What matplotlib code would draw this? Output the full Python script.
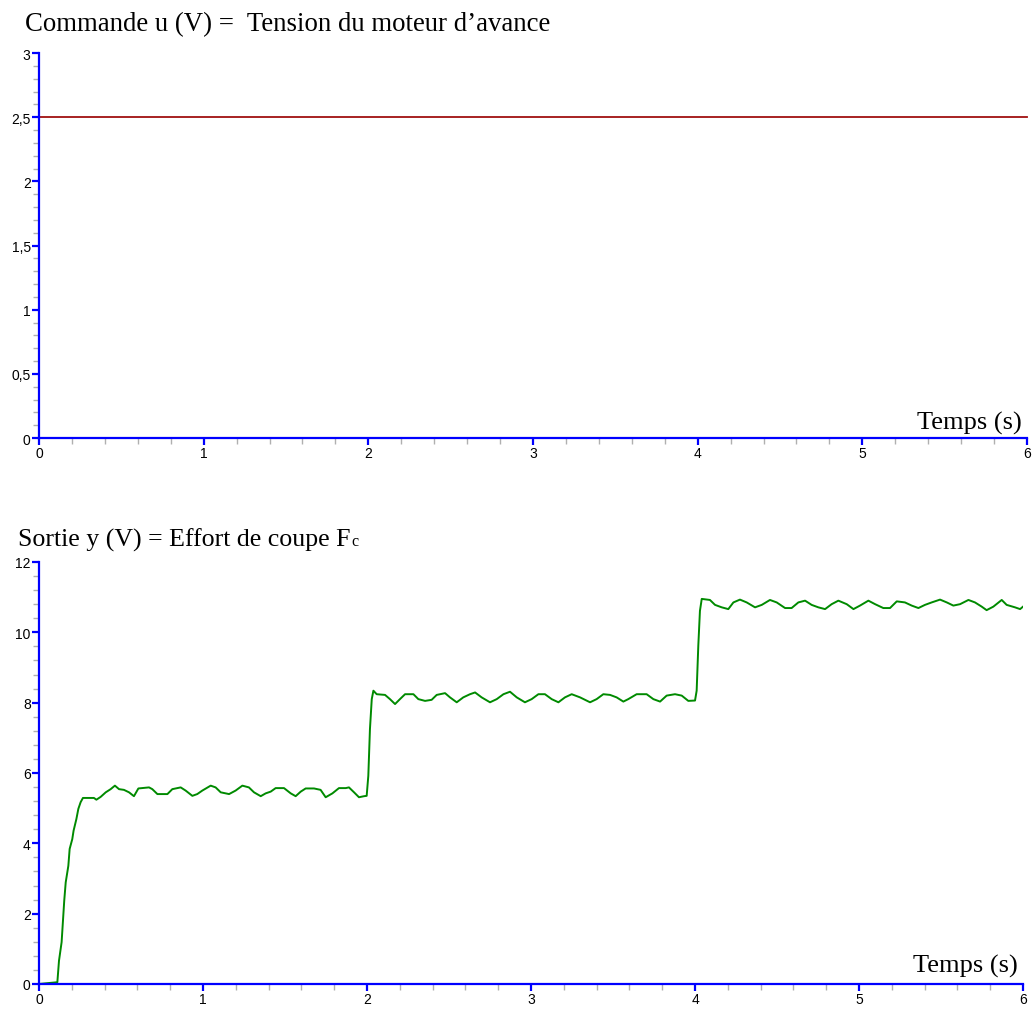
import matplotlib.pyplot as plt
from matplotlib.ticker import MultipleLocator, FuncFormatter

# commande u (V)
t_u = [0.0, 6.0]
u = [2.5, 2.5]

# sortie y (V) : effort de coupe
t_y = [0.0, 0.112, 0.122, 0.138, 0.146, 0.154, 0.163, 0.179, 0.187, 0.203, 0.211,
       0.228, 0.240, 0.254, 0.268, 0.335, 0.350, 0.376, 0.407, 0.437, 0.463, 0.488,
       0.518, 0.549, 0.579, 0.606, 0.671, 0.691, 0.722, 0.783, 0.813, 0.864, 0.894,
       0.935, 0.965, 0.996, 1.047, 1.077, 1.108, 1.159, 1.199, 1.240, 1.280, 1.311,
       1.352, 1.382, 1.413, 1.443, 1.494, 1.535, 1.565, 1.596, 1.626, 1.677, 1.717,
       1.748, 1.789, 1.829, 1.870, 1.890, 1.921, 1.951, 1.982, 1.998,
       2.008, 2.018, 2.029, 2.039, 2.059, 2.110, 2.140, 2.171, 2.201, 2.232, 2.283,
       2.313, 2.354, 2.394, 2.425, 2.476, 2.506, 2.547, 2.587, 2.628, 2.659, 2.699,
       2.750, 2.791, 2.832, 2.872, 2.913, 2.963, 3.004, 3.045, 3.085, 3.126, 3.167,
       3.207, 3.248, 3.299, 3.360, 3.400, 3.441, 3.482, 3.522, 3.563, 3.593, 3.644,
       3.705, 3.746, 3.787, 3.827, 3.878, 3.919, 3.959, 4.000,
       4.010, 4.020, 4.030, 4.041, 4.091, 4.122, 4.163, 4.203, 4.234, 4.274, 4.315,
       4.366, 4.407, 4.457, 4.498, 4.549, 4.589, 4.630, 4.671, 4.711, 4.752, 4.793,
       4.833, 4.874, 4.925, 4.966, 5.006, 5.057, 5.098, 5.148, 5.189, 5.230, 5.280,
       5.321, 5.362, 5.402, 5.443, 5.494, 5.535, 5.575, 5.616, 5.667, 5.707, 5.748,
       5.778, 5.819, 5.870, 5.900, 5.951, 5.982, 6.0]
y = [0.0, 0.05, 0.66, 1.19, 1.80, 2.37, 2.89, 3.36, 3.84, 4.12, 4.36,
     4.69, 4.98, 5.17, 5.29, 5.29, 5.24, 5.32, 5.45, 5.54, 5.64, 5.54,
     5.52, 5.45, 5.34, 5.56, 5.59, 5.54, 5.40, 5.40, 5.54, 5.59, 5.50,
     5.35, 5.40, 5.50, 5.64, 5.59, 5.45, 5.40, 5.50, 5.64, 5.59, 5.45,
     5.34, 5.42, 5.47, 5.57, 5.57, 5.42, 5.34, 5.47, 5.56, 5.56, 5.52,
     5.31, 5.42, 5.57, 5.57, 5.59, 5.45, 5.31, 5.34, 5.35,
     5.92, 7.25, 8.10, 8.34, 8.24, 8.22, 8.10, 7.96, 8.10, 8.24, 8.24,
     8.10, 8.05, 8.08, 8.22, 8.27, 8.15, 8.01, 8.15, 8.24, 8.29, 8.15,
     8.01, 8.10, 8.24, 8.31, 8.15, 8.01, 8.10, 8.24, 8.24, 8.10, 8.01,
     8.15, 8.24, 8.15, 8.01, 8.10, 8.24, 8.22, 8.15, 8.03, 8.10, 8.24,
     8.24, 8.10, 8.03, 8.20, 8.24, 8.20, 8.05, 8.06,
     8.34, 9.62, 10.61, 10.95, 10.92, 10.78, 10.71, 10.66, 10.85, 10.93, 10.85,
     10.71, 10.78, 10.92, 10.85, 10.69, 10.69, 10.85, 10.90, 10.78, 10.71, 10.66,
     10.80, 10.90, 10.80, 10.66, 10.76, 10.90, 10.80, 10.69, 10.69, 10.88, 10.85,
     10.76, 10.69, 10.78, 10.85, 10.93, 10.85, 10.76, 10.80, 10.92, 10.85, 10.73,
     10.63, 10.73, 10.92, 10.78, 10.71, 10.66, 10.73]
t_ref = [0.0, 6.0]
ref = [0.0, 0.0]

blue = '#0000ff'
serif = ['Liberation Serif', 'DejaVu Serif']
sans = ['Liberation Sans', 'DejaVu Sans']


def comma(v, pos):
    s = ('%g' % v)
    return s.replace('.', ',')


def style_axes(ax, ymax, ymajor, yminor):
    for side in ['top', 'right']:
        ax.spines[side].set_visible(False)
    for side in ['left', 'bottom']:
        ax.spines[side].set_color(blue)
        ax.spines[side].set_linewidth(1.6)
    ax.set_xlim(0, 6)
    ax.set_ylim(0, ymax)
    ax.xaxis.set_major_locator(MultipleLocator(1))
    ax.xaxis.set_minor_locator(MultipleLocator(0.2))
    ax.yaxis.set_major_locator(MultipleLocator(ymajor))
    ax.yaxis.set_minor_locator(MultipleLocator(yminor))
    ax.yaxis.set_major_formatter(FuncFormatter(comma))
    ax.tick_params(which='major', direction='out', length=5, width=1.6,
                   color=blue, labelsize=10, pad=1)
    ax.tick_params(which='minor', direction='out', length=4, width=1,
                   color='#b0b0b0')
    for lab in ax.get_xticklabels() + ax.get_yticklabels():
        lab.set_family(sans)
    ax.set_facecolor('white')


fig = plt.figure(figsize=(10.34, 10.12), dpi=100)

ax1 = fig.add_axes([0.0377, 0.5662, 0.9555, 0.3804])
ax1.plot(t_u, u, color='#a01010', lw=1.3, clip_on=False)
style_axes(ax1, 3, 0.5, 0.1)
fig.text(0.024, 0.976, 'Commande u (V) =  Tension du moteur d\u2019avance',
         family=serif, fontsize=19.3, va='center', ha='left')
ax1.text(0.995, 0.04, 'Temps (s)', transform=ax1.transAxes, family=serif,
         fontsize=19, ha='right', va='center')

ax2 = fig.add_axes([0.0377, 0.0267, 0.9517, 0.4170])
ax2.plot(t_ref, ref, color='#b8b0a0', lw=1.2)
ax2.plot(t_y, y, color='#008a00', lw=1.4)
style_axes(ax2, 12, 2, 0.4)
titre_y = fig.text(0.017, 0.4665, 'Sortie y (V) = Effort de coupe F',
                   family=serif, fontsize=18.6, va='center', ha='left')
# indice c place juste apres le F
ax2.annotate('c', xy=(1.0, 0.0), xycoords=titre_y, xytext=(1, 1),
             textcoords='offset points', family=serif, fontsize=11.5,
             ha='left', va='bottom', annotation_clip=False)
ax2.text(0.9945, 0.045, 'Temps (s)', transform=ax2.transAxes, family=serif,
         fontsize=19, ha='right', va='center')

fig.savefig('out.png', dpi=100)
